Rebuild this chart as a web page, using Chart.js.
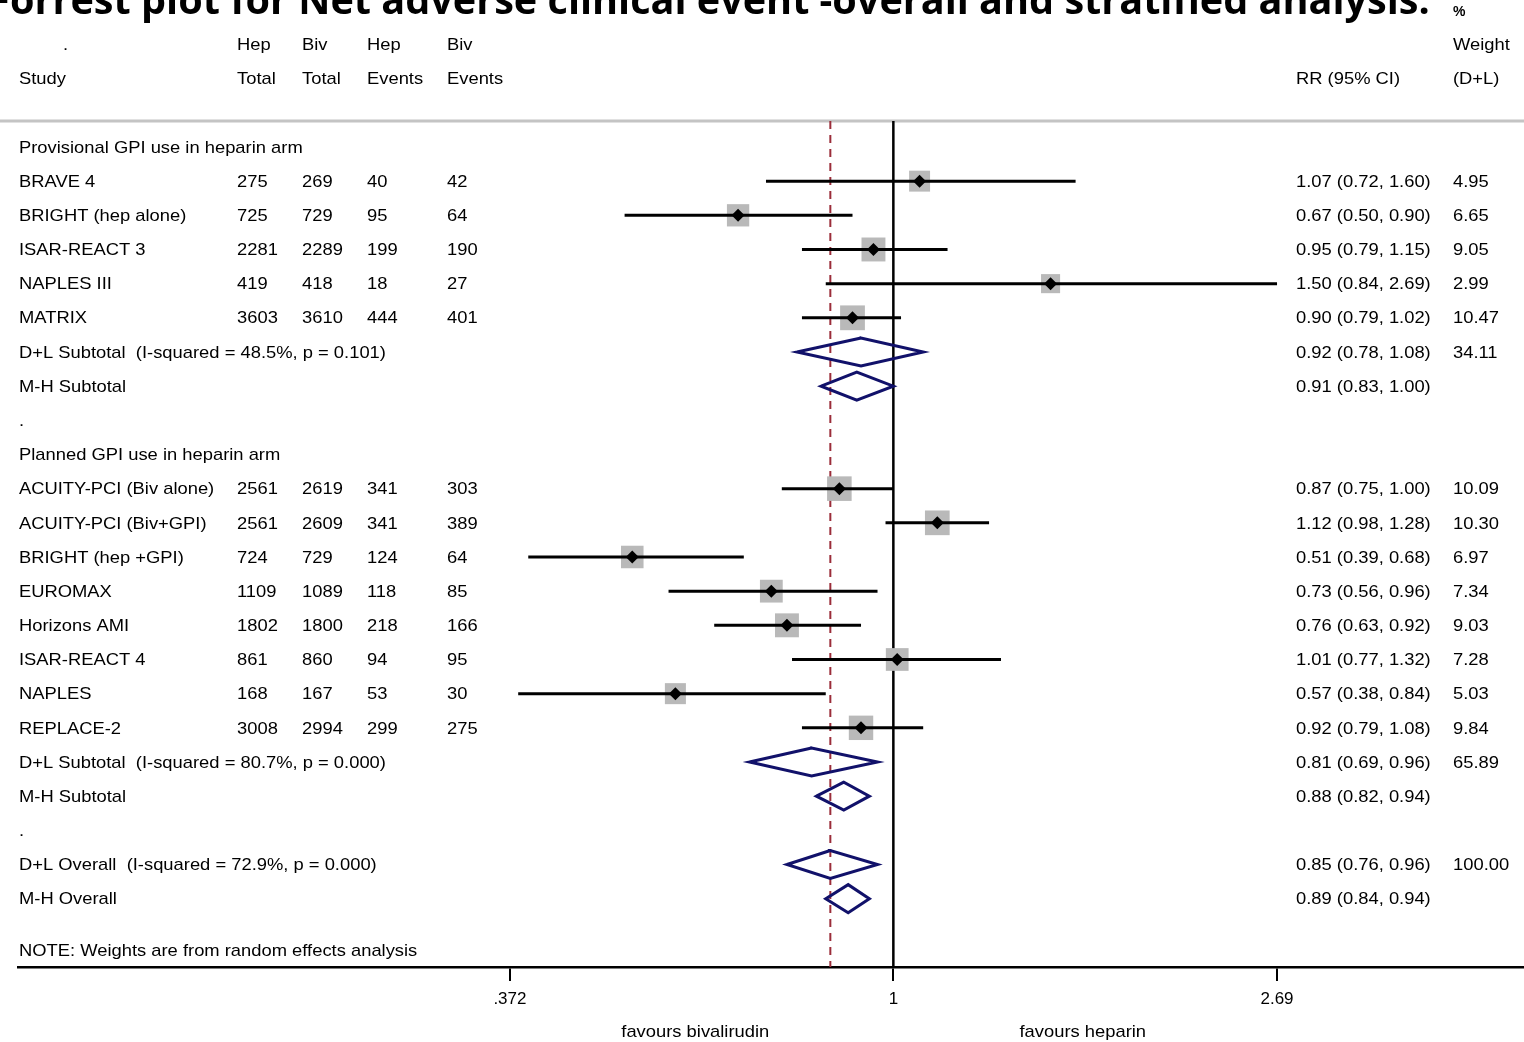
<!DOCTYPE html>
<html lang="en">
<head>
<meta charset="UTF-8">
<title>Forrest plot - NACE</title>
<style>
    html, body { margin: 0; padding: 0; background: #fff; overflow: hidden; }
    .chart-box { width: 1524px; height: 1042px; position: relative; }
</style>
</head>
<body>
<div class="chart-box"><canvas id="forestChart"></canvas></div>
<script src="https://cdn.jsdelivr.net/npm/chart.js"></script>
<script>
// rows of the plot, top to bottom
const rowLabels = [
    'Provisional GPI use in heparin arm',
    'BRAVE 4',
    'BRIGHT (hep alone)',
    'ISAR-REACT 3',
    'NAPLES III',
    'MATRIX',
    'D+L Subtotal  (I-squared = 48.5%, p = 0.101)',
    'M-H Subtotal',
    '.',
    'Planned GPI use in heparin arm',
    'ACUITY-PCI (Biv alone)',
    'ACUITY-PCI (Biv+GPI)',
    'BRIGHT (hep +GPI)',
    'EUROMAX',
    'Horizons AMI',
    'ISAR-REACT 4',
    'NAPLES',
    'REPLACE-2',
    'D+L Subtotal  (I-squared = 80.7%, p = 0.000)',
    'M-H Subtotal',
    '.',
    'D+L Overall  (I-squared = 72.9%, p = 0.000)',
    'M-H Overall'
];
const rowKinds = ['group', 'study', 'study', 'study', 'study', 'study', 'pool', 'pool', 'gap',
    'group', 'study', 'study', 'study', 'study', 'study', 'study', 'study', 'study', 'pool', 'pool', 'gap',
    'pool', 'pool'];

const hepTotal  = ['', '275', '725', '2281', '419', '3603', '', '', '', '', '2561', '2561', '724', '1109', '1802', '861', '168', '3008', '', '', '', '', ''];
const bivTotal  = ['', '269', '729', '2289', '418', '3610', '', '', '', '', '2619', '2609', '729', '1089', '1800', '860', '167', '2994', '', '', '', '', ''];
const hepEvents = ['', '40', '95', '199', '18', '444', '', '', '', '', '341', '341', '124', '118', '218', '94', '53', '299', '', '', '', '', ''];
const bivEvents = ['', '42', '64', '190', '27', '401', '', '', '', '', '303', '389', '64', '85', '166', '95', '30', '275', '', '', '', '', ''];

const rrEst  = [null, 1.07, 0.67, 0.95, 1.50, 0.90, 0.92, 0.91, null, null, 0.87, 1.12, 0.51, 0.73, 0.76, 1.01, 0.57, 0.92, 0.81, 0.88, null, 0.85, 0.89];
const rrLow  = [null, 0.72, 0.50, 0.79, 0.84, 0.79, 0.78, 0.83, null, null, 0.75, 0.98, 0.39, 0.56, 0.63, 0.77, 0.38, 0.79, 0.69, 0.82, null, 0.76, 0.84];
const rrHigh = [null, 1.60, 0.90, 1.15, 2.69, 1.02, 1.08, 1.00, null, null, 1.00, 1.28, 0.68, 0.96, 0.92, 1.32, 0.84, 1.08, 0.96, 0.94, null, 0.96, 0.94];
const weightPct = [null, 4.95, 6.65, 9.05, 2.99, 10.47, 34.11, null, null, null, 10.09, 10.30, 6.97, 7.34, 9.03, 7.28, 5.03, 9.84, 65.89, null, null, 100.00, null];

const tickValues = [0.372, 1, 2.69];
const tickLabels = ['.372', '1', '2.69'];

const titleText = 'Forrest plot for Net adverse clinical event -overall and stratified analysis:';
const noteText = 'NOTE: Weights are from random effects analysis';

// layout bits
const Y_TOP = -0.76, Y_BOTTOM = 24;
const DIAMOND_H = 0.41;
const TEXT_FONT = '17px "Liberation Sans", Arial, sans-serif';
const TEXT_STRETCH = 1.08;
const COL = { study: 19, hepT: 237, bivT: 302, hepE: 367, bivE: 447, rr: 1296, wt: 1453 };

const rowIdx = rowLabels.map((_, i) => i);
const studyRows = rowIdx.filter(i => rowKinds[i] === 'study');
const poolRows = rowIdx.filter(i => rowKinds[i] === 'pool');
const overallRow = rowLabels.findIndex(l => l.startsWith('D+L Overall'));

function boxRadius(w) {
    const side = 12.5 + 3.8 * Math.sqrt(w);
    return side / Math.SQRT2;
}

const datasets = [];
// line of no effect
datasets.push({
    data: [{ x: 1, y: Y_TOP }, { x: 1, y: Y_BOTTOM }],
    showLine: true, borderColor: '#000', borderWidth: 2.5, pointRadius: 0, order: 9
});
// overall estimate
datasets.push({
    data: [{ x: rrEst[overallRow], y: Y_TOP }, { x: rrEst[overallRow], y: Y_BOTTOM }],
    showLine: true, borderColor: '#9b2d3a', borderWidth: 2, borderDash: [8, 6], pointRadius: 0, order: 8
});
// weight boxes
datasets.push({
    data: studyRows.map(i => ({ x: rrEst[i], y: i })),
    pointStyle: 'rect', pointRadius: studyRows.map(i => boxRadius(weightPct[i])),
    backgroundColor: '#b9b9b9', borderWidth: 0, order: 7
});
// confidence intervals
studyRows.forEach(i => {
    datasets.push({
        data: [{ x: rrLow[i], y: i }, { x: rrHigh[i], y: i }],
        showLine: true, borderColor: '#000', borderWidth: 3, pointRadius: 0, order: 6
    });
});
// point estimates
datasets.push({
    data: studyRows.map(i => ({ x: rrEst[i], y: i })),
    pointStyle: 'rectRot', pointRadius: 6.5, backgroundColor: '#000', borderWidth: 0, order: 1
});
// pooled diamonds
poolRows.forEach(i => {
    datasets.push({
        data: [
            { x: rrLow[i], y: i }, { x: rrEst[i], y: i - DIAMOND_H }, { x: rrHigh[i], y: i },
            { x: rrEst[i], y: i + DIAMOND_H }, { x: rrLow[i], y: i }, { x: rrEst[i], y: i - DIAMOND_H }
        ],
        showLine: true, borderColor: '#11116a', borderWidth: 3, pointRadius: 0,
        borderJoinStyle: 'miter', fill: false, order: 2
    });
});

function putText(ctx, text, x, y, align) {
    ctx.save();
    ctx.translate(x, y + 1);
    ctx.scale(TEXT_STRETCH, 1);
    ctx.textAlign = align || 'left';
    ctx.fillText(text, 0, 0);
    ctx.restore();
}

const forestText = {
    id: 'forestText',
    beforeDatasetsDraw(chart) {
        const ctx = chart.ctx;
        const y = chart.scales.y.getPixelForValue(Y_TOP);
        ctx.save();
        ctx.strokeStyle = '#c4c4c4';
        ctx.lineWidth = 3;
        ctx.beginPath();
        ctx.moveTo(0, y);
        ctx.lineTo(chart.width, y);
        ctx.stroke();
        ctx.restore();
    },
    afterDraw(chart) {
        const ctx = chart.ctx;
        const ys = chart.scales.y;
        const xs = chart.scales.x;
        ctx.save();

        // title, cut at the top edge
        ctx.fillStyle = '#000';
        ctx.textBaseline = 'alphabetic';
        ctx.font = 'bold 28px "Open Sans", sans-serif';
        const rest = ctx.measureText(titleText.slice(1)).width;
        const fSize = 28 * 1420 / rest;
        ctx.font = 'bold ' + fSize + 'px "Open Sans", sans-serif';
        const fW = ctx.measureText('F').width;
        ctx.fillText(titleText, 10 - fW, 14);

        ctx.font = 'bold 14px "Liberation Sans", Arial, sans-serif';
        ctx.textBaseline = 'middle';
        ctx.fillText('%', COL.wt, 12);

        ctx.font = TEXT_FONT;
        ctx.textBaseline = 'middle';
        // header
        const h1 = ys.getPixelForValue(-3), h2 = ys.getPixelForValue(-2);
        putText(ctx, '.', 63, h1);
        putText(ctx, 'Hep', COL.hepT, h1);
        putText(ctx, 'Biv', COL.bivT, h1);
        putText(ctx, 'Hep', COL.hepE, h1);
        putText(ctx, 'Biv', COL.bivE, h1);
        putText(ctx, 'Weight', COL.wt, h1);
        putText(ctx, 'Study', COL.study, h2);
        putText(ctx, 'Total', COL.hepT, h2);
        putText(ctx, 'Total', COL.bivT, h2);
        putText(ctx, 'Events', COL.hepE, h2);
        putText(ctx, 'Events', COL.bivE, h2);
        putText(ctx, 'RR (95% CI)', COL.rr, h2);
        putText(ctx, '(D+L)', COL.wt, h2);

        // rows
        rowLabels.forEach((label, i) => {
            const y = ys.getPixelForValue(i);
            putText(ctx, label, COL.study, y);
            putText(ctx, hepTotal[i], COL.hepT, y);
            putText(ctx, bivTotal[i], COL.bivT, y);
            putText(ctx, hepEvents[i], COL.hepE, y);
            putText(ctx, bivEvents[i], COL.bivE, y);
            if (rrEst[i] !== null) {
                putText(ctx, rrEst[i].toFixed(2) + ' (' + rrLow[i].toFixed(2) + ', ' + rrHigh[i].toFixed(2) + ')', COL.rr, y);
            }
            if (weightPct[i] !== null) {
                putText(ctx, weightPct[i].toFixed(2), COL.wt, y);
            }
        });
        putText(ctx, noteText, COL.study, ys.getPixelForValue(23.5));

        // favours labels under the axis
        putText(ctx, 'favours bivalirudin', xs.getPixelForValue(0.6), 1031, 'center');
        putText(ctx, 'favours heparin', xs.getPixelForValue(1.63), 1031, 'center');
        ctx.restore();
    }
};

new Chart(document.getElementById('forestChart'), {
    type: 'scatter',
    data: { datasets: datasets },
    options: {
        responsive: true,
        maintainAspectRatio: false,
        animation: false,
        layout: { autoPadding: false, padding: { top: 121, left: 18, right: 0, bottom: 0 } },
        plugins: { legend: { display: false }, tooltip: { enabled: false } },
        scales: {
            x: {
                type: 'logarithmic',
                position: 'bottom',
                min: 0.1046,
                max: 5.086,
                bounds: 'data',
                afterBuildTicks: s => { s.ticks = tickValues.map(v => ({ value: v })); },
                afterFit: s => { s.height = 75; s.paddingLeft = 0; s.paddingRight = 0; },
                border: { display: true, color: '#000', width: 2.5 },
                grid: { display: true, drawOnChartArea: false, drawTicks: true, tickLength: 14, color: '#000', lineWidth: 2 },
                ticks: {
                    autoSkip: false, maxRotation: 0, padding: 8, color: '#000',
                    font: { family: '"Liberation Sans", Arial, sans-serif', size: 17 },
                    callback: (v, i) => tickLabels[i]
                }
            },
            y: {
                type: 'linear',
                reverse: true,
                min: Y_TOP,
                max: Y_BOTTOM,
                display: false
            }
        }
    },
    plugins: [forestText]
});
</script>
</body>
</html>
